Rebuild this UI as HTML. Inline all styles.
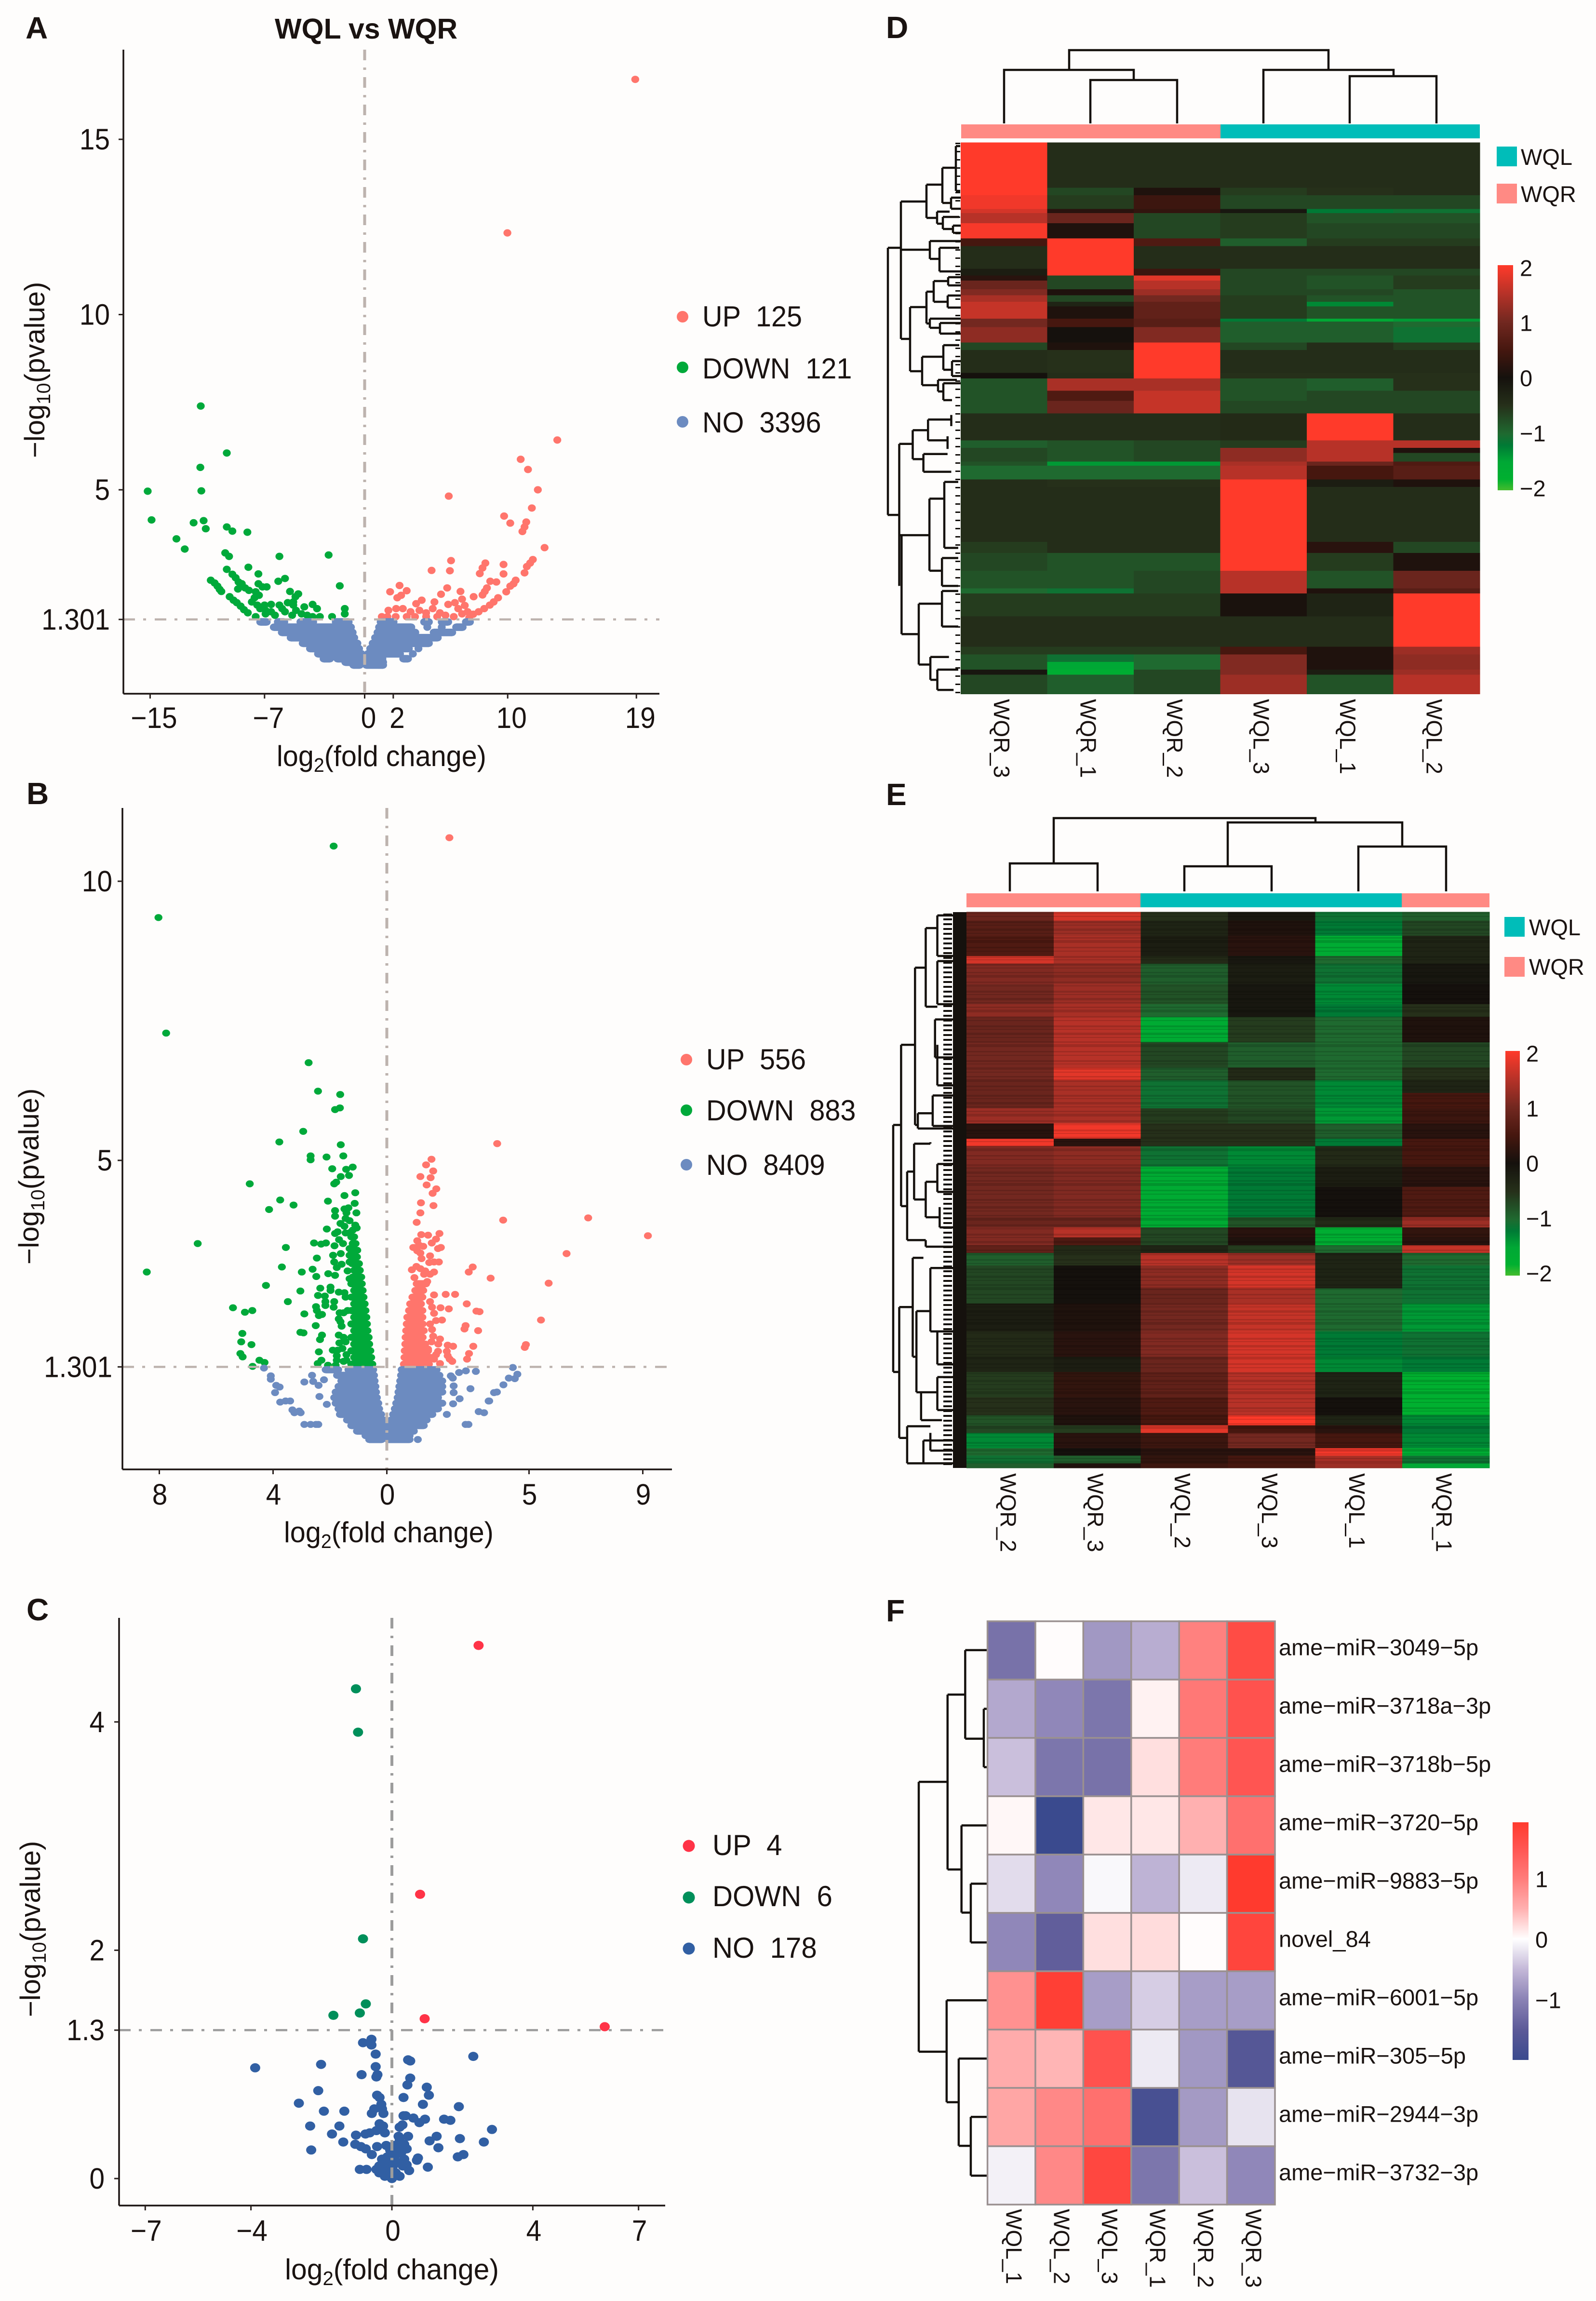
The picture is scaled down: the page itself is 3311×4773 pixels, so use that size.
<!DOCTYPE html>
<html lang="en">
<head>
<meta charset="utf-8">
<title>Volcano plots and heatmaps WQL vs WQR</title>
<style>
html,body{margin:0;padding:0;background:#fefdfc;}
svg{display:block;}
text{font-family:"Liberation Sans",sans-serif;fill:#1a1311;white-space:pre;}
</style>
</head>
<body>
<svg id="figure" xmlns="http://www.w3.org/2000/svg" width="3311" height="4773" viewBox="0 0 3311 4773">
<defs>
<linearGradient id="rgGradient" x1="0" y1="0" x2="0" y2="1"></linearGradient>
<linearGradient id="bwrGradient" x1="0" y1="0" x2="0" y2="1"></linearGradient>
</defs>
<rect x="0" y="0" width="3311" height="4773" fill="#fefdfc"/>

<g id="panelA">
<text x="53" y="80" font-size="64" font-weight="bold">A</text>
<text x="570" y="80" font-size="59" font-weight="bold">WQL vs WQR</text>
<text transform="translate(92,950) rotate(-90)" font-size="58">−log<tspan dy="12" font-size="40">10</tspan><tspan dy="-12">(pvalue)</tspan></text>
<text transform="translate(574,1589) scale(.96,1)" font-size="60">log<tspan dy="12" font-size="41">2</tspan><tspan dy="-12">(fold change)</tspan></text>
<g>
<circle cx="1416" cy="657" r="12" fill="#ff756c"/>
<circle cx="1416" cy="762" r="12" fill="#00a93a"/>
<circle cx="1416" cy="875" r="12" fill="#6c8bc0"/>
<text transform="translate(1457,677) scale(.96,1)" font-size="60">UP  125</text>
<text transform="translate(1457,785) scale(.96,1)" font-size="60">DOWN  121</text>
<text transform="translate(1457,897) scale(.96,1)" font-size="60">NO  3396</text>
</g>
</g>

<g id="panelB">
<text x="55" y="1668" font-size="64" font-weight="bold">B</text>
<text transform="translate(80,2623) rotate(-90)" font-size="58">−log<tspan dy="12" font-size="40">10</tspan><tspan dy="-12">(pvalue)</tspan></text>
<text transform="translate(589,3199) scale(.96,1)" font-size="60">log<tspan dy="12" font-size="41">2</tspan><tspan dy="-12">(fold change)</tspan></text>
<g>
<circle cx="1424" cy="2198" r="12" fill="#ff756c"/>
<circle cx="1424" cy="2303" r="12" fill="#00a93a"/>
<circle cx="1424" cy="2416" r="12" fill="#6c8bc0"/>
<text transform="translate(1465,2218) scale(.96,1)" font-size="60">UP  556</text>
<text transform="translate(1465,2324) scale(.96,1)" font-size="60">DOWN  883</text>
<text transform="translate(1465,2437) scale(.96,1)" font-size="60">NO  8409</text>
</g>
</g>

<g id="panelC">
<text x="55" y="3361" font-size="64" font-weight="bold">C</text>
<text transform="translate(83,4184) rotate(-90)" font-size="58">−log<tspan dy="12" font-size="40">10</tspan><tspan dy="-12">(pvalue)</tspan></text>
<text transform="translate(591,4728) scale(.98,1)" font-size="60">log<tspan dy="12" font-size="41">2</tspan><tspan dy="-12">(fold change)</tspan></text>
<g>
<circle cx="1429" cy="3829" r="12.5" fill="#ff3347"/>
<circle cx="1429" cy="3936" r="12.5" fill="#008f5a"/>
<circle cx="1429" cy="4042" r="12.5" fill="#315fa3"/>
<text transform="translate(1478,3848) scale(.97,1)" font-size="60">UP  4</text>
<text transform="translate(1478,3954) scale(.97,1)" font-size="60">DOWN  6</text>
<text transform="translate(1478,4061) scale(.97,1)" font-size="60">NO  178</text>
</g>
</g>

<g id="panelD">
<text x="1838" y="79" font-size="64" font-weight="bold">D</text>
<path fill="none" stroke="#15110d" stroke-width="4.5" d="M2218,145V104H2756V145 M2083,256V145H2352V166 M2262,256V166H2442V256 M2621,256V145H2891V158 M2800,256V158H2980V256"/>
<rect x="1994" y="258" width="538" height="29" fill="#ff8a84"/>
<rect x="2532" y="258" width="538" height="29" fill="#00bdb9"/>
<path fill="none" stroke="#15110d" stroke-width="4.5" d="M1842,514V1068 M1842,514H1869 M1869,418V703 M1869,418H1922 M1869,518H1929 M1869,703H1888 M1922,383V452 M1922,383H1955 M1922,452H1943 M1955,348V421 M1955,348H1982 M1955,421H1973 M1983,303V396 M1983,303H1992 M1983,396H1992 M1973,410V433 M1973,410H1993 M1973,433H1993 M1944,439V464 M1944,439H1970 M1944,464H1956 M1956,450V475 M1956,450H1990 M1956,475H1977 M1977,468V483 M1977,468H1993 M1977,483H1993 M1929,500V537 M1929,500H1993 M1929,537H1949 M1949,514V563 M1949,514H1990 M1949,563H1993 M1888,637V770 M1888,637H1922 M1888,770H1913 M1922,605V671 M1922,605H1937 M1922,671H1929 M1937,583V626 M1937,583H1967 M1937,626H1965 M1967,575V592 M1967,575H1993 M1967,592H1993 M1966,613V638 M1966,613H1993 M1966,638H1993 M1929,661V680 M1929,661H1993 M1929,680H1950 M1950,670V692 M1950,670H1993 M1950,692H1993 M1913,740V799 M1913,740H1957 M1913,799H1946 M1957,716V767 M1957,716H1990 M1957,767H1975 M1975,749V780 M1975,749H1993 M1975,780H1993 M1946,788V812 M1946,788H1985 M1946,812H1957 M1957,795V830 M1957,795H1993 M1957,830H1975"/>
<g transform="translate(1800,0) scale(.9637,1.0523)" fill="none" stroke="#15110d" stroke-width="4.5">
<path vector-effect="non-scaling-stroke" d="M43,1015H68 M68,875V1155 M68,875H97 M68,1055H133 M73,1055V1250 M73,1250H110 M97,848V905 M97,848H130 M97,905H120 M130,827V868 M130,827H180 M130,868H172 M180,818V840 M172,860V885 M120,895V930 M120,895H172 M120,930H180 M133,983V1125 M133,983H165 M133,1125H160 M165,950V1080 M165,950H195 M165,1080H195 M160,1100V1155 M160,1100H195 M160,1155H195 M110,1190V1310 M110,1190H160 M110,1310H135 M160,1165V1235 M160,1165H195 M160,1235H195 M135,1295V1340 M135,1295H175 M135,1340H150 M150,1320V1360 M150,1320H195 M150,1360H185"/>
</g>
<line x1="1987" y1="296" x2="1987" y2="1440" stroke="#15110d" stroke-width="10" stroke-dasharray="3 14"/>
<g id="heatD" shape-rendering="crispEdges"></g>
<g>
<rect x="3105" y="304" width="42" height="41" fill="#00bdb9"/>
<rect x="3105" y="381" width="42" height="41" fill="#ff8a84"/>
<text x="3155" y="342" font-size="47">WQL</text>
<text x="3155" y="419" font-size="47">WQR</text>
</g>
<rect x="3107" y="550" width="32" height="467" fill="url(#rgGradient)"/>
<g id="cbarD"></g>
</g>

<g id="panelE">
<text x="1838" y="1670" font-size="64" font-weight="bold">E</text>
<path fill="none" stroke="#15110d" stroke-width="4.5" d="M2186,1791V1697H2729V1706 M2095,1849V1791H2277V1849 M2547,1797V1706H2909V1756 M2457,1849V1797H2638V1849 M2818,1849V1756H3000V1849"/>
<rect x="2005" y="1853" width="361" height="29" fill="#ff8a84"/>
<rect x="2366" y="1853" width="542" height="29" fill="#00bdb9"/>
<rect x="2908" y="1853" width="182" height="29" fill="#ff8a84"/>
<g transform="translate(1800,1620) scale(.9637,1.0523)" fill="none" stroke="#15110d" stroke-width="4.5">
<path vector-effect="non-scaling-stroke" d="M55,678V1165 M55,678H72 M55,1165H68 M72,520V838 M72,520H102 M72,838H85 M102,368V678 M102,368H125 M102,678H108 M125,290V445 M125,290H150 M125,445H150 M150,265V345 M150,265H195 M150,345H195 M150,355V440 M150,355H195 M150,440H195 M145,470V545 M145,470H195 M145,545H195 M150,520V600 M150,600H195 M108,655V685 M108,655H140 M108,685H195 M140,620V680 M140,620H195 M140,680H195 M85,770V905 M85,770H100 M85,905H125 M100,715V825 M100,715H135 M100,825H125 M135,712V715 M125,790V860 M125,790H150 M125,860H155 M150,755V810 M150,755H195 M150,810H195 M155,840V880 M155,880H195 M125,905V918 M125,918H195 M68,1037V1295 M68,1037H97 M68,1295H85 M97,940V1135 M97,940H120 M97,1135H105 M135,960V1085 M135,960H195 M135,1085H150 M105,1045V1205 M105,1045H135 M105,1205H115 M150,1085V1150 M150,1085H195 M150,1150H195 M115,1205V1260 M115,1205H150 M115,1260H160 M150,1175V1240 M150,1175H195 M150,1240H195 M85,1272V1345 M85,1272H135 M85,1345H120 M120,1300V1345 M120,1300H195 M120,1345H195 M135,1285V1320 M135,1320H195"/>
</g>
<line x1="1966" y1="1895" x2="1966" y2="3045" stroke="#15110d" stroke-width="18" stroke-dasharray="4 6"/>
<rect x="1977" y="1892" width="28" height="1153" fill="#15110d"/>
<g id="heatE" shape-rendering="crispEdges"></g>
<line x1="2547.5" y1="1892" x2="2547.5" y2="3045" stroke="#000000" stroke-opacity=".13" stroke-width="1085" stroke-dasharray="3 5 2 9 4 3 2 6 5 4 2 7 3 3 6 8"/>
<g>
<rect x="3121" y="1902" width="42" height="41" fill="#00bdb9"/>
<rect x="3121" y="1985" width="42" height="41" fill="#ff8a84"/>
<text x="3172" y="1940" font-size="47">WQL</text>
<text x="3172" y="2022" font-size="47">WQR</text>
</g>
<rect x="3123" y="2180" width="30" height="466" fill="url(#rgGradient)"/>
<g id="cbarE"></g>
</g>

<g id="panelF">
<text x="1838" y="3363" font-size="64" font-weight="bold">F</text>
<g transform="translate(1800,3280) scale(.9637,.9521)" fill="none" stroke="#15110d" stroke-width="4.5">
<path vector-effect="non-scaling-stroke" d="M110,437V1025 M110,437H172 M110,1025H170 M172,247V628 M172,247H210 M172,628H202 M210,150V343 M210,150H258 M210,343H250 M250,278V405 M250,278H258 M250,405H258 M202,532V722 M202,532H258 M202,722H222 M222,659V787 M222,659H258 M222,787H258 M170,913V1135 M170,913H258 M170,1135H196 M196,1040V1230 M196,1040H258 M196,1230H222 M222,1167V1295 M222,1167H258 M222,1295H258"/>
</g>
<g id="heatF"></g>
<rect x="3138" y="3780" width="33" height="493" fill="url(#bwrGradient)"/>
<g id="cbarF"></g>
</g>
</svg>

<script>
// ---------- Panel A data (log2 fold change, -log10 p) ----------
const aXTicks = [-15, -7, 0, 2, 10, 19];
const aXTickLabels = ['−15', '−7', '0', '2', '10', '19'];
const aYTicks = [1.301, 5, 10, 15];
const aYTickLabels = ['1.301', '5', '10', '15'];
const aUp = [[18.92,16.71],[9.98,12.33],[13.47,6.42],[10.91,5.87],[11.42,5.58],[12.11,5],[5.88,4.82],[11.69,4.48],[9.75,4.25],[10.18,4.05],[11.3,4.08],[11.18,3.94],[11.03,3.81],[12.58,3.35],[11.76,3.01],[11.57,2.91],[11.34,2.81],[11.18,2.63],[6.04,2.98],[5.96,2.69],[4.68,2.7],[8.44,2.91],[8.24,2.77],[8.05,2.61],[9.71,2.87],[9.71,2.6],[8.78,2.39],[9.21,2.37],[8.55,2.2],[8.4,2.1],[8.24,2],[10.56,2.42],[10.41,2.32],[10.18,2.25],[9.9,2.09],[9.33,1.92],[9.02,1.8],[8.75,1.71],[8.36,1.61],[7.97,1.52],[7.59,1.45],[7.31,1.35],[2.44,2.27],[1.78,2.09],[2.28,1.92],[2.94,2.12],[2.55,1.99],[5.77,2.2],[5.34,2.02],[6.7,2.1],[7.62,1.95],[6.81,1.88],[3.99,1.85],[3.6,1.75],[4.88,1.8],[5.84,1.73],[6.31,1.78],[7,1.7],[6.54,1.61],[7.2,1.52],[6.81,1.46],[1.66,1.56],[2.2,1.61],[2.67,1.61],[3.21,1.52],[3.83,1.56],[4.3,1.49],[4.76,1.61],[5.26,1.49],[5.65,1.42],[6.23,1.38],[1.2,1.38],[1.59,1.38],[2.17,1.38],[2.94,1.38],[3.52,1.38],[4.3,1.38],[5.07,1.38]];
const aDown = [[-11.46,7.39],[-9.64,6.05],[-11.49,5.64],[-15.17,4.96],[-11.42,4.97],[-14.9,4.14],[-11.26,4.12],[-11.96,4.06],[-11.11,3.89],[-9.64,3.94],[-9.25,3.82],[-8.2,3.79],[-13.16,3.6],[-12.58,3.31],[-9.75,3.2],[-9.48,3.1],[-5.96,3.1],[-2.52,3.14],[-9.64,2.73],[-8.13,2.79],[-7.43,2.6],[-9.25,2.59],[-9.02,2.49],[-8.82,2.37],[-8.59,2.32],[-8.36,2.2],[-10.76,2.42],[-10.49,2.34],[-10.29,2.25],[-10.14,2.16],[-10.02,2.1],[-5.57,2.47],[-6.04,2.39],[-1.74,2.26],[-7.43,2.32],[-7.15,2.23],[-6.85,2.23],[-8.86,2.17],[-8.09,2.13],[-7.62,2.09],[-7.39,1.99],[-7.7,1.92],[-7.89,1.8],[-5.22,2.1],[-4.64,2.03],[-4.84,1.95],[-4.99,1.8],[-5.38,1.78],[-9.44,1.95],[-9.17,1.85],[-8.94,1.78],[-8.67,1.68],[-8.44,1.58],[-8.17,1.49],[-7.51,1.71],[-7,1.71],[-6.54,1.73],[-5.96,1.71],[-6.93,1.56],[-7.31,1.61],[-6.54,1.52],[-5.77,1.61],[-5.57,1.52],[-4.99,1.71],[-4.8,1.56],[-4.22,1.66],[-3.64,1.73],[-3.33,1.61],[-4.41,1.46],[-5.07,1.42],[-4.02,1.42],[-3.64,1.38],[-3.13,1.38],[-1.39,1.61],[-1.39,1.46],[-2.28,1.38],[-7.62,1.38],[-6.93,1.46],[-6.27,1.42]];
const aNoRows = [
[1.23,[-7.3,-6.85,-6.07,-5.62,-4.49,-4.04,-3.6,-2.02,-1.57,-1.12,1.12,1.57,2.02,4.16,4.49,5.39,5.84,7.08,7.36]],
[1.08,[-6.35,-5.9,-5.45,-5,-4.55,-4.1,-3.65,-3.2,-2.75,-2.3,-1.85,-1.4,-.96,1.01,1.46,1.91,2.36,2.81,3.26,4.38,5.39,6.4,6.85]],
[.93,[-5.79,-5.34,-4.89,-4.44,-3.99,-3.54,-3.09,-2.64,-2.19,-1.75,-1.29,-.84,.9,1.35,1.8,2.25,2.7,3.15,3.54,4.83,5.28,5.73,6.12]],
[.78,[-5.17,-4.72,-4.27,-3.82,-3.37,-2.92,-2.47,-2.02,-1.57,-1.12,-.73,.73,1.18,1.63,2.08,2.53,2.98,3.43,3.82,4.27,4.72,5.11]],
[.62,[-4.33,-3.88,-3.43,-2.98,-2.53,-2.08,-1.63,-1.18,-.73,-.51,.56,1.01,1.46,1.91,2.36,2.81,3.26,3.71,4.16,4.49]],
[.47,[-3.82,-3.37,-2.92,-2.47,-2.02,-1.57,-1.12,-.67,-.39,.39,.84,1.29,1.74,2.19,2.64,3.09,3.76]],
[.32,[-3.26,-2.81,-2.36,-1.91,-1.46,-1.01,-.56,-.22,.22,.67,1.12,1.57,2.02,2.47,3.37]],
[.18,[-2.87,-2.42,-1.91,-1.46,-1.01,-.56,-.11,.34,.79,1.24,2.7,3.03]],
[.08,[-1.35,-.9,-.45,0,.45,.9,1.29]],
[0,[-.79,-.34,.11,.56,1.01,1.29]]
];

// ---------- Panel B data ----------
const bXTicks = [-8, -4, 0, 5, 9];
const bXTickLabels = ['8', '4', '0', '5', '9'];
const bYTicks = [1.301, 5, 10];
const bYTickLabels = ['1.301', '5', '10'];
const bUp = [[2.2,10.78],[3.88,5.3],[4.09,3.93],[7.08,3.97],[9.18,3.65],[6.32,3.33],[5.69,2.8],[5.42,2.14],[4.89,1.7],[4.85,1.65],[1.57,5.02],[1.38,4.92],[1.63,4.81],[1.18,4.71],[1.54,4.69],[1.4,4.56],[1.74,4.49],[1.61,4.41],[1.2,4.24],[1.64,4.19],[1.18,4.06],[1.05,3.89],[1.21,3.67],[1.45,3.66],[1.85,3.69],[1.73,3.59],[1.58,3.52],[1.07,3.56],[1,3.44],[1.14,3.48],[1.28,3.46],[1.07,3.38],[1.18,3.34],[.93,3.44],[1.8,3.42],[1.9,3.44],[1.52,3.29],[1.22,3.24],[1.49,3.17],[1.66,3.18],[1.83,3.18],[3.02,3.09],[2.88,3],[3.65,2.89],[.88,3.04],[1.04,3.1],[1.18,3.06],[1.35,3.02],[1.31,2.96],[1.52,2.96],[1.66,3],[.97,2.9],[1.42,2.83],[1.66,2.59],[2.07,2.6],[2.4,2.6],[2.81,2.43],[3.26,2.29],[3.15,2.3],[1.89,2.36],[2.18,2.34],[1.52,2.47],[1.59,2.37],[1.66,2.26],[1.94,2.14],[1.73,2.13],[1.52,2.07],[2.77,2.04],[2.73,1.98],[3.21,1.95],[1.59,1.97],[1.63,1.85],[1.87,1.8],[1.57,1.75],[1.81,1.71],[2.14,1.69],[2.33,1.67],[3.04,1.67],[2.89,1.54],[2.82,1.44],[2.11,1.58],[2.14,1.5],[2.21,1.44],[2.3,1.4],[1.8,1.58],[1.73,1.52],[1.87,1.36],[1.66,1.44],[1.45,1.62]];
const bUpRows = [
[1.35,[.6,.82,1.04,1.26,1.48]],[1.47,[.62,.93,1.15,1.37,1.55]],[1.59,[.63,.82,1.04,1.26,1.45]],[1.71,[.65,.93,1.15,1.35]],[1.83,[.66,.82,1.04,1.26]],[1.95,[.68,.93,1.15,1.3]],[2.07,[.7,.82,1.04,1.26]],[2.19,[.72,.93,1.15,1.25]],[2.31,[.78,.9,1.04,1.25]],[2.43,[.82,1,1.2]],[2.55,[.9,1.08,1.25]],[2.67,[1,1.15,1.28]],[2.79,[1.05,1.2,1.38]]
];
const bDown = [[-1.87,10.63],[-8.03,9.35],[-7.76,7.28],[-2.75,6.75],[-2.42,6.24],[-1.64,6.18],[-1.82,5.91],[-1.65,5.94],[-2.94,5.52],[-3.78,5.33],[-1.62,5.28],[-2.68,5.08],[-2.68,5.01],[-2.12,5.06],[-1.53,5.08],[-1.92,4.85],[-1.43,4.84],[-1.2,4.88],[-1.62,4.71],[-1.33,4.73],[-1.85,4.58],[-1.78,4.61],[-4.82,4.58],[-1.49,4.37],[-1.11,4.42],[-2.07,4.27],[-1.13,4.23],[-3.75,4.29],[-3.28,4.2],[-4.14,4.12],[-1.82,4.1],[-1.82,4],[-1.49,4.13],[-1.35,4.15],[-1.07,4.06],[-1.42,4.06],[-1.45,3.96],[-1.31,3.92],[-1.63,3.87],[-1.49,3.82],[-1.11,3.84],[-1.06,3.79],[-2.11,3.77],[-1.73,3.72],[-1.82,3.69],[-1.45,3.7],[-1.28,3.71],[-1.18,3.62],[-1.68,3.58],[-1.54,3.51],[-2.56,3.52],[-2.31,3.5],[-2.14,3.52],[-1.84,3.47],[-3.55,3.44],[-1.31,3.42],[-1.62,3.33],[-1.89,3.3],[-1.31,3.3],[-2.46,3.25],[-1.85,3.18],[-1.59,3.14],[-1.31,3.18],[-3.69,3.09],[-1.76,3.08],[-2.61,3.05],[-2.99,3],[-1.38,3.02],[-2.06,2.97],[-1.82,2.94],[-2.48,2.92],[-1.31,2.88],[-4.25,2.76],[-2.34,2.71],[-1.98,2.73],[-1.98,2.67],[-3.04,2.66],[-1.69,2.64],[-1.49,2.63],[-2.42,2.58],[-2.18,2.57],[-1.45,2.55],[-3.48,2.47],[-2.16,2.47],[-1.85,2.47],[-2.16,2.4],[-1.87,2.37],[-2.49,2.38],[-5.41,2.36],[-4.73,2.31],[-4.99,2.28],[-2.46,2.31],[-2.39,2.22],[-2.28,2.24],[-2.9,2.25],[-1.66,2.27],[-1.69,2.16],[-1.63,2.11],[-1.59,2.03],[-1.52,2.27],[-1.38,2.31],[-2.5,2.04],[-3.04,1.92],[-2.93,1.91],[-5.08,1.9],[-5.12,1.75],[-4.76,1.7],[-2.28,1.87],[-2.35,1.79],[-1.69,1.87],[-1.67,1.73],[-1.52,1.83],[-1.45,1.75],[-1.56,1.63],[-1.9,1.6],[-1.73,1.6],[-5.15,1.54],[-5.07,1.48],[-2.39,1.57],[-1.76,1.5],[-1.76,1.42],[-1.42,1.52],[-1.42,1.42],[-4.48,1.42],[-4.3,1.38],[-2.3,1.42],[-2.43,1.36],[-4.72,1.31],[-2.07,1.33],[-1.8,1.33],[-1.52,1.4],[-8.44,3],[-6.65,3.51]];
const bDownRows = [
[1.35,[-1.25,-1.03,-.81,-.6,-.51]],[1.47,[-1.15,-.93,-.71,-.55]],[1.59,[-1.25,-1.03,-.81,-.58]],[1.71,[-1.15,-.93,-.75,-.62]],[1.83,[-1.25,-1.03,-.81,-.64]],[1.95,[-1.15,-.93,-.68]],[2.07,[-1.25,-1.03,-.81,-.7]],[2.19,[-1.15,-.93,-.72]],[2.31,[-1.25,-1.03,-.81,-.75]],[2.43,[-1.15,-.95,-.78]],[2.55,[-1.25,-1.03,-.82]],[2.67,[-1.15,-.95,-.85]],[2.79,[-1.25,-1.03,-.88]],[2.91,[-1.2,-1.03,-.9]],[3.03,[-1.15,-.95]],[3.15,[-1.22,-1.05,-.98]],[3.27,[-1.2,-1.05]],[3.39,[-1.25,-1.12,-1.04]],[3.51,[-1.2,-1.1]],[3.63,[-1.25,-1.15]],[3.75,[-1.2]]
];
const bNo = [[-4.32,1.28],[-4.08,1.14],[-4.08,1.08],[-3.89,.97],[-3.77,.94],[-3.93,.84],[-2.9,1.03],[-2.63,1.15],[-2.59,1.04],[-2.4,.97],[-2.37,.77],[-2.21,1.07],[2.25,1.14],[2.32,1.1],[2.54,1.2],[2.78,1.23],[3.13,1.22],[2.35,.96],[2.35,.84],[2.94,.91],[2.56,.73],[3.58,.69],[3.77,.84],[3.87,.85],[4.1,.98],[4.29,1.1],[4.5,1.09],[4.59,1.17],[4.43,1.29],[-3.75,.67],[-3.56,.69],[-3.4,.69],[-3.32,.53],[-3.25,.48],[-3.08,.51],[-3.03,.48],[-2.9,.27],[-2.68,.27],[-2.49,.27],[-2.41,.27],[-2.11,.63],[2.11,.45],[2.33,.64],[3.23,.5],[3.42,.48],[2.77,.27],[2.87,.27],[3.6,.69],[1.09,0]];
const bNoRows = [
[1.25,[-2.15,-1.93,-1.71,-1.35,-1.13,-.91,-.69,-.48,.52,.74,.96,1.18,1.4,1.62,1.75]],
[1.15,[-1.75,-1.53,-1.24,-1.02,-.8,-.58,-.45,.5,.63,.85,1.07,1.29,1.51,1.73,1.85]],
[1.05,[-1.6,-1.35,-1.13,-.91,-.69,-.43,.47,.74,.96,1.18,1.4,1.62,1.84,1.95]],
[.95,[-1.7,-1.46,-1.24,-1.02,-.8,-.58,-.4,.44,.63,.85,1.07,1.29,1.51,1.73,1.95]],
[.85,[-1.8,-1.57,-1.35,-1.13,-.91,-.69,-.47,-.38,.41,.52,.74,.96,1.18,1.4,1.62,1.84,1.95]],
[.75,[-1.85,-1.64,-1.42,-1.2,-.98,-.76,-.54,-.35,.38,.63,.85,1.07,1.29,1.51,1.73,1.8]],
[.65,[-1.8,-1.53,-1.31,-1.09,-.87,-.65,-.43,-.3,.33,.52,.74,.96,1.18,1.4,1.62,1.84,1.95]],
[.55,[-1.7,-1.42,-1.2,-.98,-.76,-.54,-.4,-.27,.28,.46,.63,.85,1.07,1.29,1.51,1.73,1.8]],
[.45,[-1.65,-1.31,-1.09,-.87,-.65,-.43,-.2,.22,.41,.63,.85,1.07,1.29,1.51,1.6]],
[.35,[-1.4,-1.2,-.98,-.76,-.54,-.32,-.12,.15,.32,.54,.76,.98,1.2,1.4]],
[.25,[-1.25,-1.06,-.84,-.62,-.4,-.18,0,.18,.4,.62,.84,1.06,1.3]],
[.15,[-1.05,-.88,-.66,-.44,-.22,0,.22,.44,.66,.88,.95]],
[.07,[-.75,-.55,-.33,-.11,.11,.33,.55,.8]],
[0,[-.62,-.4,-.18,.04,.26,.48,.7,.8]]
];

// ---------- Panel C data ----------
const cXTicks = [-7, -4, 0, 4, 7];
const cXTickLabels = ['−7', '−4', '0', '4', '7'];
const cYTicks = [0, 1.3, 2, 4];
const cYTickLabels = ['0', '1.3', '2', '4'];
const cUp = [[2.46,4.67],[.8,2.49],[.93,1.4],[6.04,1.33]];
const cDown = [[-1.02,4.29],[-.96,3.91],[-.82,2.1],[-.74,1.53],[-.91,1.45],[-1.66,1.43]];
const cNo = [[-.58,1.22],[-.82,1.19],[-.58,1.17],[-.46,1.09],[.46,1.04],[.52,1.03],[2.31,1.07],[-3.88,.97],[-2.01,1],[-.46,.98],[-.86,.91],[-.41,.91],[-.44,.89],[.52,.88],[.44,.82],[.99,.8],[-2.09,.77],[-.42,.73],[-.35,.71],[.33,.71],[1.05,.73],[-2.64,.66],[-.3,.65],[.88,.65],[1.9,.63],[-1.93,.59],[-1.35,.59],[-.5,.61],[-.28,.61],[-.57,.57],[-.24,.57],[.33,.55],[.39,.55],[.61,.53],[.78,.49],[.94,.52],[1.48,.52],[1.66,.51],[-.35,.48],[-.25,.46],[.3,.47],[.22,.45],[-2.32,.46],[-1.49,.46],[2.84,.43],[-1.7,.39],[-1.02,.38],[-.75,.39],[-.63,.4],[-.44,.42],[-.2,.4],[.19,.37],[.46,.37],[1.27,.37],[-1.38,.32],[-1.04,.3],[-.88,.28],[-.74,.26],[-.42,.28],[-.16,.29],[-.57,.21],[.22,.33],[.35,.3],[1.07,.33],[1.93,.35],[2.61,.32],[1.32,.27],[-2.29,.25],[.42,.26],[.27,.23],[.74,.18],[.71,.16],[2.03,.21],[1.87,.19],[1.02,.1],[-.91,.08],[-.72,.08],[-.44,.08],[.49,.07],[-.28,.17],[-.13,.19],[.11,.21],[-.05,.25],[.06,.29],[.19,.26],[-.36,.11],[-.2,.13],[-.13,.07],[.03,.11],[.19,.14],[.35,.17],[.31,.11],[.22,.02],[0,0],[-.2,.02],[-.36,.05],[.11,.05],[-.13,.14],[0,.17],[.42,.12]];

// ---------- Heatmap data: [band size, then one value per sample] ----------
const dSamples = ['WQR_3', 'WQR_1', 'WQR_2', 'WQL_3', 'WQL_1', 'WQL_2'];
const dBands = [
[89,2,-.45,-.45,-.45,-.45,-.45],[15,2,-.7,.1,-.6,-.5,-.45],[27,1.9,-.6,.4,-.7,-.7,-.7],[8,1.7,.2,.3,-.1,-1.2,-1.1],[20,1.5,.9,-.7,-.6,-.8,-.8],[30,1.95,.1,-.7,-.6,-.7,-.7],[15,.5,2,.6,-.9,-.6,-.6],[45,-.45,2,-.45,-.45,-.45,-.45],[13,-.2,2,.4,-.7,-.7,-.7],[10,.2,-.7,1.8,-.7,-.8,-.6],[17,.9,-.7,1.5,-.7,-.8,-.6],[12,1.1,.1,1.3,-.7,-.7,-.8],[13,1.4,-.7,1,-.6,-.8,-.8],[9,1.6,-.3,.8,-.6,-1.3,-.8],[24,1.6,.1,.8,-.6,-.8,-.8],[6,1,.5,.7,-1.2,-1.5,-1.4],[11,1,.5,.7,-.9,-.9,-1],[30,1.2,0,1.1,-.9,-.9,-1.1],[15,-.7,.1,2,-.7,-.45,-.6],[45,-.45,-.5,2,-.45,-.45,-.45],[11,0,-.45,2,-.5,-.5,-.5],[24,-.8,1.4,1.4,-.8,-.9,-.5],[20,-.8,.6,1.6,-.8,-.7,-.7],[25,-.8,.9,1.6,-.7,-.7,-.7],[53,-.45,-.45,-.45,-.4,2,-.45],[15,-.9,-.8,-.7,-.6,1.5,1.5],[10,-.7,-.8,-.7,1.2,1.5,.1],[17,-.7,-.8,-.7,1.2,1.5,-.7],[8,-.8,-1.4,-1.4,1.4,.9,.6],[27,-1,-1,-1,1.5,.5,.7],[15,-.45,-.5,-.5,2,-.2,.1],[108,-.45,-.45,-.45,2,-.45,-.45],[22,-.6,-.45,-.45,2,.2,-.7],[35,-.7,-.8,-.8,2,-.6,.1],[35,-.8,-.8,-.7,1.5,-.8,.9],[10,-1,-1.1,-.7,1.5,.1,.7],[45,-.6,-.6,-.6,.05,-.3,2],[60,-.45,-.45,-.45,-.45,-.45,2],[15,-.6,-.6,-.6,.5,.1,1.3],[15,-.8,-1.1,-1,1.1,.1,1.2],[15,-.8,-1.5,-1,1.1,.1,1.2],[10,-.1,-1.7,-.7,1.1,-.2,1.3],[38,-.7,-.9,-.7,1.3,-.8,1.5]
];
const eSamples = ['WQR_2', 'WQR_3', 'WQL_2', 'WQL_3', 'WQL_1', 'WQR_1'];
const eBands = [
[17,.9,1.7,-.5,-.1,-1.1,-.9],[30,.7,1.3,-.3,.1,-1.2,-.7],[40,.6,1.4,-.2,.2,-1.6,-.3],[15,1.7,1.4,-.4,-.1,-1,-.3],[40,1.1,1.2,-.9,-.2,-1.1,-.1],[40,1,1.3,-.8,-.1,-1.3,0],[25,1.2,1.4,-1,-.1,-1.2,-.5],[50,.9,1.5,-1.6,-.6,-1,.1],[50,1,1.5,-.7,-.9,-1,-.7],[25,1,1.8,-.9,-.4,-1,-.5],[25,.9,1.4,-1.1,-.8,-1.3,-.3],[30,.9,1.4,-1.1,-.8,-1.3,.5],[30,1.3,1.4,-.6,-.7,-1.4,.4],[30,.2,1.9,-.5,-.5,-.9,.2],[15,1.9,.2,-.5,-.5,-1.2,.5],[40,1.1,1.2,-1.1,-1.3,-.4,.5],[40,1,1.1,-1.6,-1.2,-.2,.2],[60,1,1.1,-1.6,-1.2,0,.6],[20,.9,.9,-1.6,-.8,-.4,1.3],[20,1.1,1.5,-.7,.2,-1.7,.3],[15,1.1,.6,-.7,.1,-1.7,.2],[15,.8,-.4,-.3,-.6,-1,1.6],[25,-.9,-.5,1.5,1.3,-.3,-1],[45,-.7,0,1.2,1.7,-.3,-1.1],[30,-.7,0,.9,1.4,-1,-1.1],[55,-.2,.1,1,1.6,-1,-1.4],[50,-.4,.2,1.1,1.7,-1.2,-1.1],[30,-.3,-.2,.9,1.7,-1.3,-1.2],[50,-.6,.3,.8,1.5,-.3,-1.8],[35,-.5,.2,.6,1.5,0,-1.8],[20,-.8,.1,.5,2,-.3,-1.3],[15,-.7,-.6,1.8,.5,.2,-1.2],[30,-1.3,.2,.4,1,.5,-1.3],[15,-1,0,.2,.2,1.9,-1.6],[15,-1.1,-.9,.3,.5,1.4,-1.1],[9,-.9,.1,.4,.5,1.3,-1.5]
];
const fSamples = ['WQL_1', 'WQL_2', 'WQL_3', 'WQR_1', 'WQR_2', 'WQR_3'];
const fGenes = ['ame−miR−3049−5p', 'ame−miR−3718a−3p', 'ame−miR−3718b−5p', 'ame−miR−3720−5p', 'ame−miR−9883−5p', 'novel_84', 'ame−miR−6001−5p', 'ame−miR−305−5p', 'ame−miR−2944−3p', 'ame−miR−3732−3p'];
const fValues = [
[-1.2,.02,-.8,-.6,.95,1.65],
[-.65,-.95,-1.15,.08,1.05,1.55],
[-.45,-1.15,-1.2,.2,1,1.5],
[.05,-2,.15,.15,.5,1.15],
[-.25,-.95,-.05,-.55,-.15,1.93],
[-.95,-1.45,.2,.22,.02,1.75],
[.8,1.85,-.75,-.35,-.75,-.75],
[.55,.47,1.55,-.15,-.8,-1.6],
[.6,.88,1.15,-1.8,-.78,-.2],
[-.1,.88,1.72,-1.15,-.45,-.95]
];

// ---------- Colour scales and colorbar ticks ----------
const rgStops = [[2,'#ff3a2a'],[1.5,'#b73228'],[1,'#732820'],[.5,'#46170f'],[0,'#15110d'],[-.5,'#26301a'],[-1,'#1f6a30'],[-1.2,'#007a35'],[-1.5,'#00a835'],[-1.8,'#00b030'],[-2,'#45bc2e']];
const bwrStops = [[1.93,'#ff3a2e'],[1.5,'#ff5552'],[1,'#ff7c7a'],[.5,'#ffb0b0'],[0,'#ffffff'],[-.5,'#c4b8d8'],[-1,'#8a82b5'],[-1.5,'#5c5a98'],[-2,'#3a4a8e']];
const rgTicks = [2, 1, 0, -1, -2];
const rgTickLabels = ['2', '1', '0', '−1', '−2'];
const bwrTicks = [1, 0, -1];
const bwrTickLabels = ['1', '0', '−1'];

// ---------- Helpers ----------
const NS = 'http://www.w3.org/2000/svg';
function make(tag, parent, attrs) {
  const el = document.createElementNS(NS, tag);
  for (const k in attrs) el.setAttribute(k, attrs[k]);
  parent.appendChild(el);
  return el;
}
function expandRows(rows) {
  const out = [];
  rows.forEach(function (row) { row[1].forEach(function (fc) { out.push([fc, row[0]]); }); });
  return out;
}
function hexToRgb(h) {
  return [parseInt(h.substr(1, 2), 16), parseInt(h.substr(3, 2), 16), parseInt(h.substr(5, 2), 16)];
}
function colorFor(stops, v) {
  if (v >= stops[0][0]) return stops[0][1];
  for (let i = 1; i < stops.length; i++) {
    if (v >= stops[i][0]) {
      const t = (v - stops[i][0]) / (stops[i - 1][0] - stops[i][0]);
      const a = hexToRgb(stops[i][1]);
      const b = hexToRgb(stops[i - 1][1]);
      return 'rgb(' + Math.round(a[0] + (b[0] - a[0]) * t) + ',' + Math.round(a[1] + (b[1] - a[1]) * t) + ',' + Math.round(a[2] + (b[2] - a[2]) * t) + ')';
    }
  }
  return stops[stops.length - 1][1];
}
function drawDots(parent, pts, sx, sy, rx, ry, color) {
  pts.forEach(function (p) {
    const el = make('ellipse', parent, { cx: sx(p[0]), cy: sy(p[1]), rx: rx, ry: ry, fill: color });
    
    
  });
}
// Overplotted neighbours in a dense row merge into one solid run, as in the source figure.
function drawRuns(parent, rows, sx, sy, maxGap, width, color) {
  rows.forEach(function (row) {
    const fc = row[1];
    for (let i = 1; i < fc.length; i++) {
      if (fc[i] - fc[i - 1] <= maxGap && !(fc[i - 1] < 0 && fc[i] > 0)) {
        const el = make('line', parent, { x1: sx(fc[i - 1]), x2: sx(fc[i]), y1: sy(row[0]), y2: sy(row[0]), stroke: color, 'stroke-width': width });
        
        
      }
    }
  });
}
function drawVolcano(o) {
  const g = document.getElementById(o.id);
  const sx = o.sx, sy = o.sy;
  const runW = 2 * o.ry + .6;
  if (o.upRows) drawRuns(g, o.upRows, sx, sy, o.maxGap, runW, o.colors[0]);
  drawDots(g, o.up, sx, sy, o.rx, o.ry, o.colors[0]);
  if (o.downRows) drawRuns(g, o.downRows, sx, sy, o.maxGap, runW, o.colors[1]);
  drawDots(g, o.down, sx, sy, o.rx, o.ry, o.colors[1]);
  if (o.noRows) drawRuns(g, o.noRows, sx, sy, o.maxGap, runW, o.colors[2]);
  drawDots(g, o.no, sx, sy, o.rx, o.ry, o.colors[2]);

  const v = make('line', g, { x1: sx(0), x2: sx(0), y1: o.top, y2: o.bottom, stroke: o.lineColor, 'stroke-width': 6, 'stroke-dasharray': '22 15 5 15' });
  
  
  const h = make('line', g, { x1: o.left, x2: o.right, y1: sy(o.threshold), y2: sy(o.threshold), stroke: o.lineColor, 'stroke-width': 4.5, 'stroke-dasharray': '24 17 6 18' });
  
  

  const ya = make('line', g, { x1: o.left, x2: o.left, y1: o.top, y2: o.bottom, stroke: '#1a1311', 'stroke-width': 3.5 });
  
  
  const xa = make('line', g, { x1: o.left, x2: o.right, y1: o.bottom, y2: o.bottom, stroke: '#1a1311', 'stroke-width': 3.5 });
  
  

  o.xTicks.forEach(function (t, i) {
    const tick = make('line', g, { x1: sx(t), x2: sx(t), y1: o.bottom, y2: o.bottom + 10, stroke: '#2a211e', 'stroke-width': 3 });
    
    
    const label = make('text', g, { transform: 'translate(' + (sx(t) + o.xLabelDx) + ',' + o.xLabelY + ') scale(.93,1)', 'font-size': o.tickSize, 'text-anchor': 'middle' });
    label.textContent = o.xLabels[i];
    
    
  });
  o.yTicks.forEach(function (t, i) {
    const tick = make('line', g, { x1: o.left - 10, x2: o.left, y1: sy(t), y2: sy(t), stroke: '#2a211e', 'stroke-width': 3 });
    
    
    const label = make('text', g, { transform: 'translate(' + o.yLabelX + ',' + (sy(t) + 21) + ') scale(.93,1)', 'font-size': o.tickSize, 'text-anchor': 'end' });
    label.textContent = o.yLabels[i];
    
    
  });
}
function drawBands(id, bands, samples, x0, y0, w, h, labelY, labelDx) {
  const g = document.getElementById(id);
  const total = bands.reduce(function (s, b) { return s + b[0]; }, 0);
  const colW = w / samples.length;
  let acc = 0;
  bands.forEach(function (b) {
    const yTop = y0 + acc / total * h;
    const yBot = y0 + (acc + b[0]) / total * h;
    for (let c = 0; c < samples.length; c++) {
      const cell = make('rect', g, { x: x0 + c * colW, y: yTop, width: colW + .5, height: yBot - yTop + .5, fill: colorFor(rgStops, b[c + 1]) });
      
      
    }
    acc += b[0];
  });
  samples.forEach(function (s, c) {
    const cx = x0 + (c + .5) * colW + labelDx;
    const t = make('text', g.parentNode, { transform: 'translate(' + cx + ',' + labelY + ') rotate(90)', 'font-size': 46 });
    t.textContent = s;
    
    
  });
}
function drawCells(id, values, samples, genes, x0, y0, w, h) {
  const g = document.getElementById(id);
  const colW = w / samples.length;
  const rowH = h / genes.length;
  values.forEach(function (row, r) {
    row.forEach(function (v, c) {
      const cell = make('rect', g, { x: x0 + c * colW, y: y0 + r * rowH, width: colW, height: rowH, fill: colorFor(bwrStops, v), stroke: '#9a9090', 'stroke-width': 3.5 });
      
      
    });
    const t = make('text', g, { x: x0 + w + 8, y: y0 + (r + .5) * rowH + 10, 'font-size': 47 });
    t.textContent = genes[r];
    
    
  });
  samples.forEach(function (s, c) {
    const cx = x0 + (c + .5) * colW - 11;
    const t = make('text', g, { transform: 'translate(' + cx + ',' + (y0 + h + 9) + ') rotate(90)', 'font-size': 46 });
    t.textContent = s;
    
    
  });
}
function drawCbarLabels(id, ticks, labels, sy, x) {
  const g = document.getElementById(id);
  ticks.forEach(function (t, i) {
    const label = make('text', g, { x: x, y: sy(t) + 17, 'font-size': 47 });
    label.textContent = labels[i];
    
    
  });
}
function fillGradient(id, stops) {
  const grad = document.getElementById(id);
  const hi = stops[0][0], lo = stops[stops.length - 1][0];
  stops.forEach(function (s) {
    make('stop', grad, { offset: ((hi - s[0]) / (hi - lo) * 100) + '%', 'stop-color': s[1] });
  });
}

// ---------- Render ----------
fillGradient('rgGradient', rgStops);
fillGradient('bwrGradient', bwrStops);

drawVolcano({
  id: 'panelA', sx: function (v) { return 756.5 + v * 29.67; }, sy: function (v) { return 1379.5 - v * 72.7; },
  up: aUp, down: aDown, no: expandRows(aNoRows), noRows: aNoRows, maxGap: .5, rx: 8.2, ry: 7.6, colors: ['#ff756c', '#00a93a', '#6c8bc0'], lineColor: '#bdb3ae',
  left: 256, right: 1368, top: 103, bottom: 1439, threshold: 1.301,
  xTicks: aXTicks, xLabels: aXTickLabels, yTicks: aYTicks, yLabels: aYTickLabels,
  xLabelDx: 8, xLabelY: 1510, yLabelX: 228, tickSize: 61
});
drawVolcano({
  id: 'panelB', sx: function (v) { return 802.5 + v * 59; }, sy: function (v) { return 2986 - v * 115.8; },
  up: bUp.concat(expandRows(bUpRows)), upRows: bUpRows, down: bDown.concat(expandRows(bDownRows)), downRows: bDownRows, no: bNo.concat(expandRows(bNoRows)), noRows: bNoRows, maxGap: .34, rx: 8.2, ry: 7.2, colors: ['#ff756c', '#00a93a', '#6c8bc0'], lineColor: '#bdb3ae',
  left: 254, right: 1394, top: 1676, bottom: 3048, threshold: 1.301,
  xTicks: bXTicks, xLabels: bXTickLabels, yTicks: bYTicks, yLabels: bYTickLabels,
  xLabelDx: 1, xLabelY: 3121, yLabelX: 233, tickSize: 61
});
drawVolcano({
  id: 'panelC', sx: function (v) { return 813 + v * 73.1; }, sy: function (v) { return 4519 - v * 236.8; },
  up: cUp, down: cDown, no: cNo, rx: 10.5, ry: 9.5, colors: ['#ff3347', '#008f5a', '#315fa3'], lineColor: '#9c9c9c',
  left: 247, right: 1380, top: 3356, bottom: 4575, threshold: 1.3,
  xTicks: cXTicks, xLabels: cXTickLabels, yTicks: cYTicks, yLabels: cYTickLabels,
  xLabelDx: 2, xLabelY: 4648, yLabelX: 217, tickSize: 61
});

drawBands('heatD', dBands, dSamples, 1993, 295.7, 1077, 1143.8, 1450, -21);
drawBands('heatE', eBands, eSamples, 2005, 1891.5, 1085, 1153.5, 3056, -20);
drawCells('heatF', fValues, fSamples, fGenes, 2048.6, 3363, 596.4, 1210);

drawCbarLabels('cbarD', rgTicks, rgTickLabels, function (v) { return 784 - v * 114.3; }, 3153);
drawCbarLabels('cbarE', rgTicks, rgTickLabels, function (v) { return 2413 - v * 114; }, 3166);
drawCbarLabels('cbarF', bwrTicks, bwrTickLabels, function (v) { return 4023 - v * 125.5; }, 3185);
</script>
</body>
</html>
